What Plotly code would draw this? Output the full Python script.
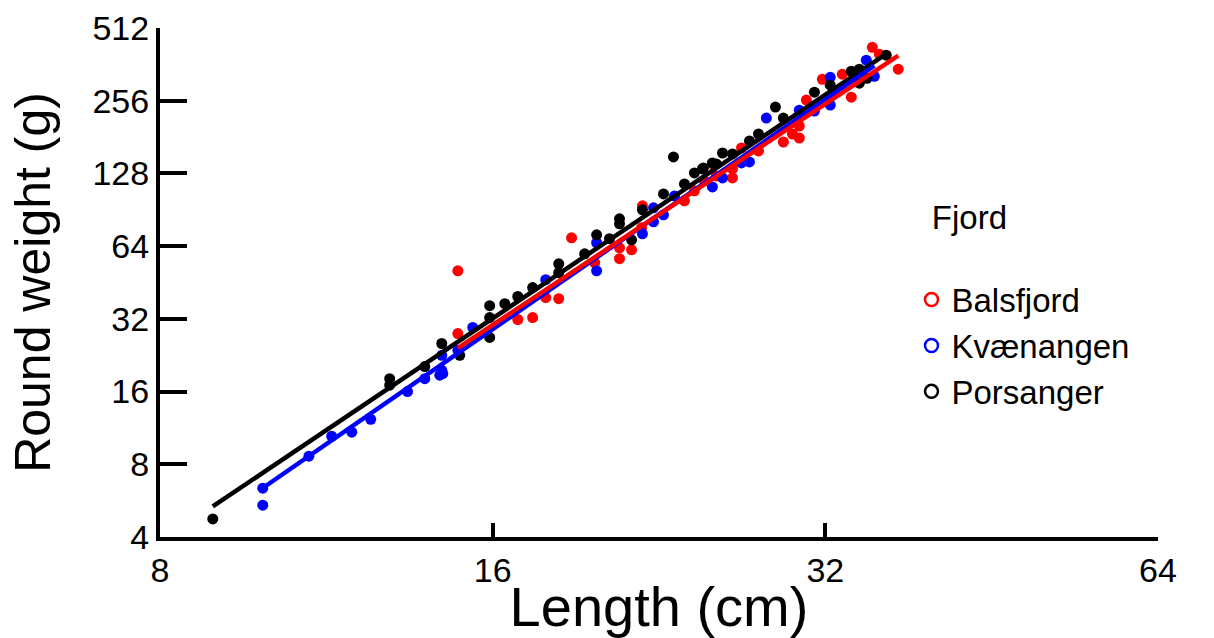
import numpy as np
import plotly.graph_objects as go

# ---------------- data (length cm, round weight g) ----------------
fjords = ["Balsfjord", "Kvænangen", "Porsanger"]
colors = ["#ff0000", "#0000ff", "#000000"]

bals_length = [14.88, 14.88, 16.86, 17.39, 17.87, 18.36, 18.86, 19.79, 20.84, 20.84,
               21.37, 21.86, 21.82, 23.86, 24.36, 25.29, 25.5, 24.87, 26.37, 26.37,
               26.87, 27.84, 29.32, 29.88, 30.31, 30.31, 30.76, 31.80, 33.15, 33.78,
               35.29, 35.81, 37.25]
bals_weight = [50.6, 27.8, 31.8, 32.4, 39.2, 38.8, 69.3, 54.6, 56.8, 63.0,
               61.8, 94.0, 76.2, 98.6, 108.4, 140.1, 125.0, 119.2, 122.6, 133.6,
               163.2, 158.6, 172.7, 186.4, 179.4, 201.1, 257.5, 314.0, 329.6, 264.9,
               426.0, 398.6, 345.7]

kvae_length = [9.91, 9.91, 10.91, 11.44, 11.93, 12.41, 13.40, 13.89, 14.33, 14.39,
               14.42, 14.39, 14.88, 15.35, 17.87, 19.87, 19.87, 21.86, 22.37, 22.37,
               22.84, 23.37, 25.29, 25.83, 26.87, 27.32, 28.30, 30.31, 31.28, 32.33,
               32.33, 34.85, 35.44]
kvae_weight = [5.42, 6.37, 8.64, 10.45, 10.86, 12.28, 16.0, 18.1, 18.7, 19.6,
               19.0, 22.6, 23.7, 29.5, 46.5, 66.1, 50.6, 72.0, 80.7, 92.2,
               86.3, 103.3, 112.6, 122.6, 141.4, 142.8, 217.0, 234.0, 232.0, 320.0,
               245.5, 376.6, 323.0]

pors_length = [8.93, 12.91, 12.91, 13.89, 14.39, 14.94, 15.90, 15.90, 15.90, 16.41,
               16.86, 17.39, 18.36, 18.36, 19.38, 19.87, 20.41, 20.84, 20.84, 21.37,
               21.86, 22.84, 23.32, 23.86, 24.36, 24.82, 25.5, 25.83, 26.37, 25.29,
               24.77, 27.32, 27.84, 28.84, 29.32, 31.28, 32.33, 33.78, 34.35, 34.35,
               36.33, 34.9]
pors_weight = [4.75, 18.1, 17.0, 20.3, 25.3, 22.6, 36.3, 32.4, 26.8, 37.0,
               39.6, 43.1, 54.1, 49.7, 59.5, 71.3, 68.7, 83.0, 79.2, 68.0,
               90.5, 105.3, 149.8, 115.8, 128.6, 134.9, 140.1, 155.5, 154.1, 141.4,
               133.6, 174.4, 186.4, 240.9, 217.0, 277.8, 296.9, 339.0, 345.7, 302.6,
               395.0, 317.0]

# fitted log-log regressions: ln(W) = intercept + slope * ln(L)
fit_intercept = [-5.022, -5.392, -5.055]
fit_slope = [3.040, 3.159, 3.075]

x_ticks = [8, 16, 32, 64]
y_ticks = [4, 8, 16, 32, 64, 128, 256, 512]

lengths = [bals_length, kvae_length, pors_length]
weights = [bals_weight, kvae_weight, pors_weight]

FONT = "Liberation Sans, Arial, sans-serif"

fig = go.Figure()

# points
for name, col, L, W in zip(fjords, colors, lengths, weights):
    fig.add_trace(go.Scatter(x=L, y=W, mode="markers", showlegend=False,
                             marker=dict(color=col, size=11, line=dict(width=0)),
                             hoverinfo="x+y", name=name))

# fit lines
for i in [2, 1, 0]:
    L = np.array([min(lengths[i]), max(lengths[i])])
    W = np.exp(fit_intercept[i] + fit_slope[i] * np.log(L))
    fig.add_trace(go.Scatter(x=L, y=W, mode="lines", showlegend=False,
                             line=dict(color=colors[i], width=4.5), name=fjords[i]))

# legend entries (open circles)
for name, col in zip(fjords, colors):
    fig.add_trace(go.Scatter(x=[None], y=[None], mode="markers", name=name,
                             marker=dict(symbol="circle-open", color=col, size=13,
                                         line=dict(width=2.5, color=col))))

fig.update_layout(
    width=1214, height=638,
    margin=dict(l=160, r=56, t=28, b=101),
    paper_bgcolor="white", plot_bgcolor="white",
    font=dict(family=FONT, color="black"),
    legend=dict(x=0.753, y=0.69, xanchor="left", yanchor="top",
                font=dict(size=33, family=FONT),
                title=dict(text="\u00a0\u00a0Fjord<br><span style='font-size:22px'>\u00a0</span>",
                           font=dict(size=33, family=FONT)),
                bgcolor="rgba(0,0,0,0)", tracegroupgap=0, itemwidth=30),
)

fig.update_xaxes(type="log", range=[np.log10(8), np.log10(64)],
                 tickvals=x_ticks, ticktext=[str(v) for v in x_ticks],
                 ticks="inside", ticklen=14, tickwidth=4, tickcolor="black",
                 showline=True, linewidth=4, linecolor="black",
                 showgrid=False, zeroline=False, automargin=False,
                 tickfont=dict(size=34, family=FONT),
                 title=dict(text="Length (cm)", font=dict(size=56, family=FONT), standoff=9))
fig.update_yaxes(type="log", range=[np.log10(4), np.log10(512)],
                 tickvals=y_ticks, ticktext=[str(v) for v in y_ticks],
                 ticks="inside", ticklen=27, tickwidth=4, tickcolor="black",
                 showline=True, linewidth=4, linecolor="black",
                 showgrid=False, zeroline=False, automargin=False,
                 tickfont=dict(size=34, family=FONT),
                 title=dict(text="Round weight (g)", font=dict(size=50, family=FONT), standoff=27))

fig.write_html("out.html", config={"displayModeBar": False},
               post_script="document.body.style.margin='0';document.body.style.overflow='hidden';")
